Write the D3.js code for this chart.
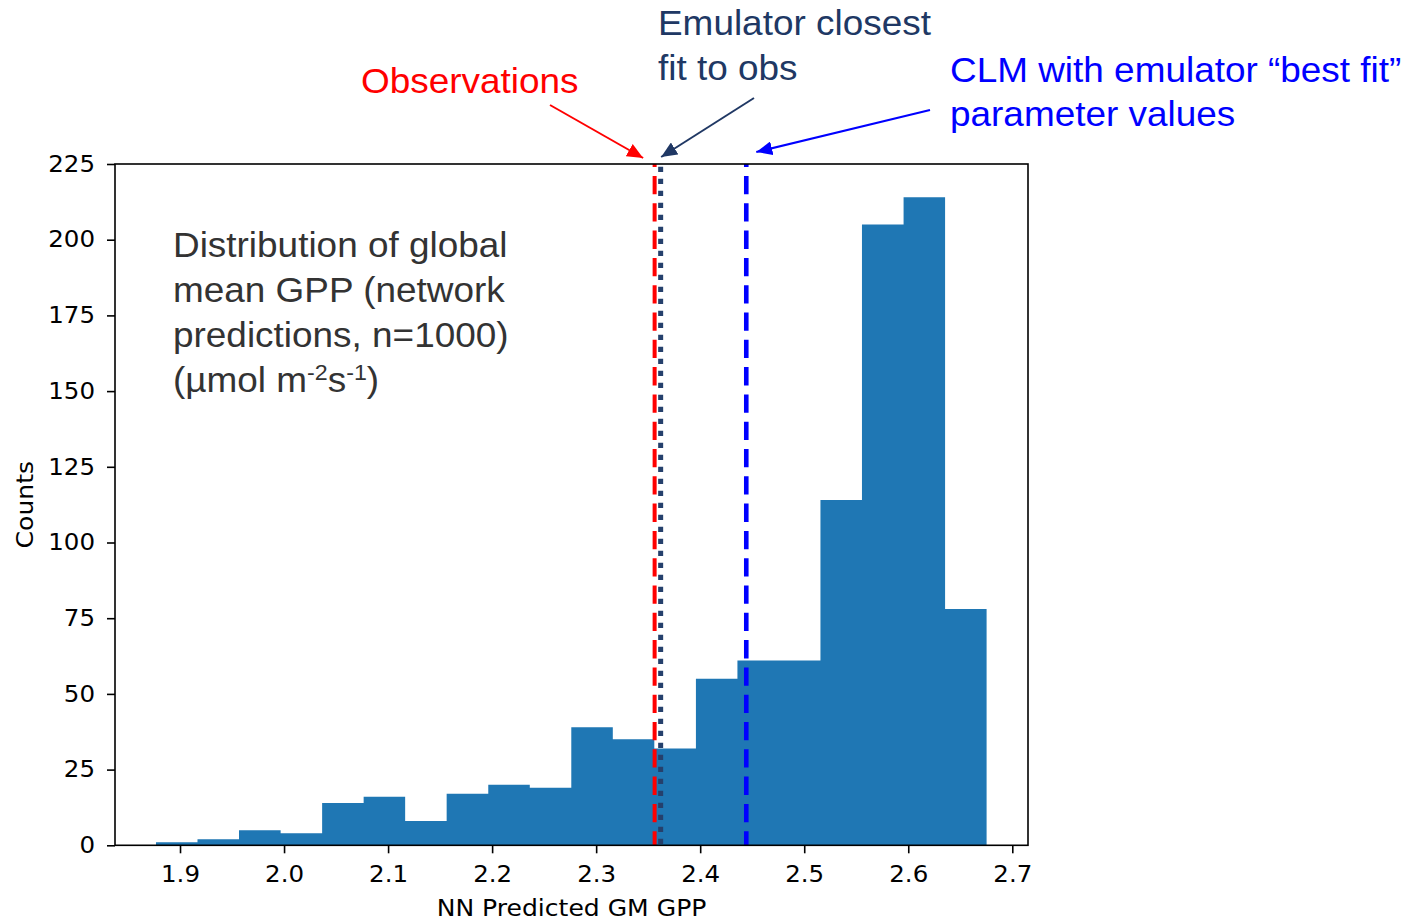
<!DOCTYPE html>
<html>
<head>
<meta charset="utf-8">
<script src="https://cdn.jsdelivr.net/npm/d3@7"></script>
<style>
  body { margin: 0; background: #fff; }
  svg { display: block; }
</style>
</head>
<body>
<div id="chart"></div>
<script>
// histogram bins (edges) and counts, n = 1000
const binEdges = [1.8769, 1.9168, 1.9567, 1.9967, 2.0366, 2.0765, 2.1164, 2.1563, 2.1963, 2.2362,
  2.2761, 2.3160, 2.3559, 2.3959, 2.4358, 2.4757, 2.5156, 2.5555, 2.5955, 2.6354, 2.6753];
const counts = [1, 2, 5, 4, 14, 16, 8, 17, 20, 19, 39, 35, 32, 55, 61, 61, 114, 205, 214, 78];

const xTicks = [1.9, 2.0, 2.1, 2.2, 2.3, 2.4, 2.5, 2.6, 2.7];
const yTicks = [0, 25, 50, 75, 100, 125, 150, 175, 200, 225];

// reference lines
const obsValue = 2.3562;
const emuValue = 2.3620;
const clmValue = 2.4443;

const infoLines = ['Distribution of global', 'mean GPP (network', 'predictions, n=1000)'];
const obsLabel = ['Observations'];
const emuLabel = ['Emulator closest', 'fit to obs'];
const clmLabel = ['CLM with emulator \u201cbest fit\u201d', 'parameter values'];

const W = 1414, H = 922;
const plot = { left: 115, right: 1028, top: 164, bottom: 845.3 };
const sxArial = 1.055, sxDeja = 1.09;

const svg = d3.select('#chart').append('svg')
  .attr('width', W)
  .attr('height', H);

const x = d3.scaleLinear().domain([1.8375, 2.7151]).range([plot.left, plot.right]);
const y = d3.scaleLinear().domain([0, 225]).range([plot.bottom, plot.top]);

// bars: one step outline so neighbouring bins show no seams
const bins = counts.map((c, i) => ({ x0: binEdges[i], x1: binEdges[i + 1], count: c }));
const outline = [];
bins.forEach(d => {
  outline.push([x(d.x0), y(d.count)]);
  outline.push([x(d.x1), y(d.count)]);
});
const histPath = d3.path();
histPath.moveTo(x(bins[0].x0), y(0));
outline.forEach(p => histPath.lineTo(p[0], p[1]));
histPath.lineTo(x(bins[bins.length - 1].x1), y(0));
histPath.closePath();
svg.append('path')
  .attr('d', histPath.toString())
  .attr('fill', '#1f77b4');

// vertical reference lines, drawn from the top of the axes
function vline(v, color, width, dash, offset) {
  svg.append('line')
    .attr('x1', x(v)).attr('x2', x(v))
    .attr('y1', y(225)).attr('y2', y(0))
    .attr('stroke', color)
    .attr('stroke-width', width)
    .attr('stroke-dasharray', dash)
    .attr('stroke-dashoffset', offset);
}
vline(obsValue, '#ff0000', 4, '18.3,9', 15.3);
vline(clmValue, '#0000ff', 4.6, '18.3,9', 15.3);
vline(emuValue, '#25406c', 5, '5.4,6.6', 9.3);

// axes
const fontDeja = '"DejaVu Sans", sans-serif';
const xAxis = svg.append('g')
  .attr('transform', `translate(0,${plot.bottom})`)
  .call(d3.axisBottom(x).tickValues(xTicks).tickFormat(d3.format('.1f')).tickSize(8).tickPadding(13).tickSizeOuter(0));
const yAxis = svg.append('g')
  .attr('transform', `translate(${plot.left},0)`)
  .call(d3.axisLeft(y).tickValues(yTicks).tickSize(8).tickPadding(12).tickSizeOuter(0));

[xAxis, yAxis].forEach(g => {
  g.select('.domain').remove();
  g.selectAll('.tick line').attr('stroke', '#000').attr('stroke-width', 1.6);
  g.selectAll('.tick text')
    .attr('fill', '#000')
    .style('font-family', fontDeja)
    .style('font-size', '22.5px');
});
xAxis.selectAll('.tick text').attr('transform', `scale(${sxDeja},1)`);
yAxis.selectAll('.tick text')
  .attr('x', -20 / sxDeja)
  .attr('transform', `scale(${sxDeja},1)`);

// frame
svg.append('rect')
  .attr('x', plot.left).attr('y', plot.top)
  .attr('width', plot.right - plot.left)
  .attr('height', plot.bottom - plot.top)
  .attr('fill', 'none')
  .attr('stroke', '#000')
  .attr('stroke-width', 1.6);

// axis labels
svg.append('text')
  .attr('transform', `translate(${(plot.left + plot.right) / 2},916) scale(${sxDeja},1)`)
  .attr('text-anchor', 'middle')
  .style('font-family', fontDeja)
  .style('font-size', '23px')
  .text('NN Predicted GM GPP');

svg.append('text')
  .attr('transform', `translate(33,${(plot.top + plot.bottom) / 2}) rotate(-90) scale(${sxDeja},1)`)
  .attr('text-anchor', 'middle')
  .style('font-family', fontDeja)
  .style('font-size', '23px')
  .text('Counts');

// text blocks (Arial-like)
const fontArial = '"Liberation Sans", Arial, sans-serif';
function textBlock(lines, x0, y0, step, color) {
  lines.forEach((t, i) => {
    svg.append('text')
      .attr('transform', `translate(${x0},${y0 + i * step}) scale(${sxArial},1)`)
      .attr('fill', color)
      .style('font-family', fontArial)
      .style('font-size', '35px')
      .text(t);
  });
}

textBlock(infoLines, 173, 257, 45, '#333333');
const unit = svg.append('text')
  .attr('transform', `translate(173,392) scale(${sxArial},1)`)
  .attr('fill', '#333333')
  .style('font-family', fontArial)
  .style('font-size', '35px');
unit.append('tspan').text('(\u00b5mol m');
unit.append('tspan').attr('dy', -12).style('font-size', '22px').text('-2');
unit.append('tspan').attr('dy', 12).text('s');
unit.append('tspan').attr('dy', -12).style('font-size', '22px').text('-1');
unit.append('tspan').attr('dy', 12).text(')');

textBlock(obsLabel, 361, 93.3, 45.5, '#ff0000');
textBlock(emuLabel, 658, 34.5, 45.5, '#203864');
textBlock(clmLabel, 950, 81.7, 44.5, '#0000ff');

// arrows
const defs = svg.append('defs');
function arrow(id, color) {
  defs.append('marker')
    .attr('id', id)
    .attr('markerUnits', 'userSpaceOnUse')
    .attr('viewBox', '0 0 16 14')
    .attr('markerWidth', 16).attr('markerHeight', 14)
    .attr('refX', 16).attr('refY', 7)
    .attr('orient', 'auto')
    .append('path')
    .attr('d', 'M0,0 L16,7 L0,14 Z')
    .attr('fill', color);
}
arrow('a-red', '#ff0000');
arrow('a-navy', '#203864');
arrow('a-blue', '#0000ff');

function pointer(x1, y1, x2, y2, color, id) {
  svg.append('line')
    .attr('x1', x1).attr('y1', y1)
    .attr('x2', x2).attr('y2', y2)
    .attr('stroke', color)
    .attr('stroke-width', 2)
    .attr('marker-end', `url(#${id})`);
}
pointer(550, 105, x(obsValue) - 11.5, y(225) - 6, '#ff0000', 'a-red');
pointer(754, 98, x(emuValue) + 0.5, y(225) - 7, '#203864', 'a-navy');
pointer(930, 110, x(clmValue) + 10, y(225) - 12, '#0000ff', 'a-blue');
</script>
</body>
</html>
